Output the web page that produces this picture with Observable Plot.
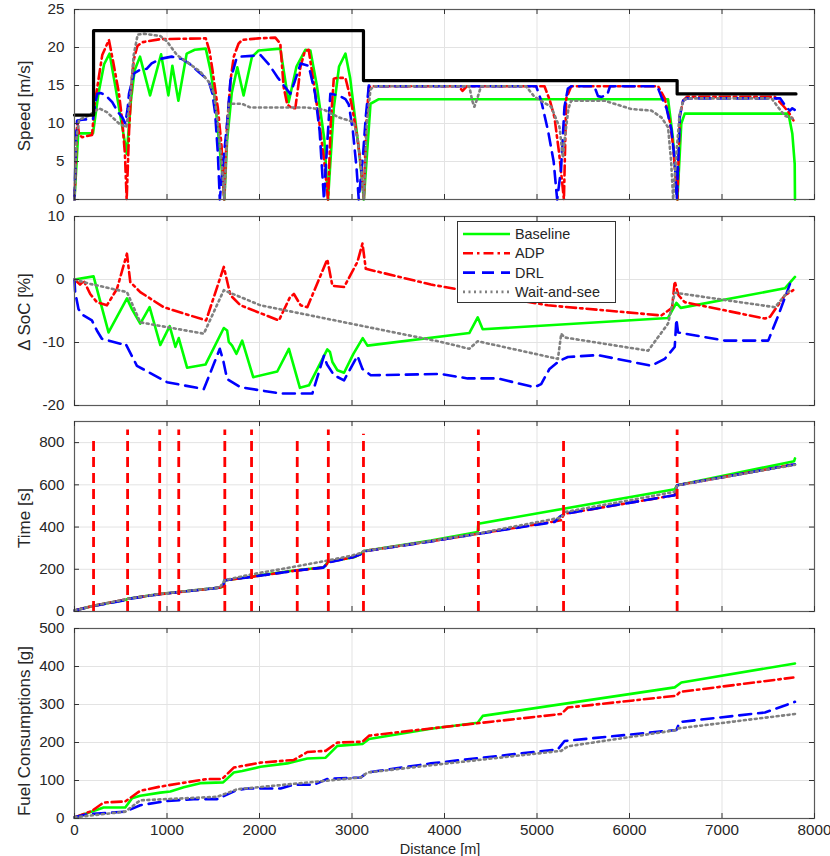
<!DOCTYPE html>
<html><head><meta charset="utf-8">
<script src="https://cdn.jsdelivr.net/npm/d3@7"></script>
<script src="https://cdn.jsdelivr.net/npm/@observablehq/plot@0.6"></script>
<style>
body{margin:0;background:#fff;}
#root{position:relative;width:830px;height:856px;overflow:hidden;font-family:"Liberation Sans",Arial,sans-serif;color:#262626;}
.panel{position:absolute;left:0;}
.panel svg{overflow:visible;}
.ylab{position:absolute;transform:translate(-50%,-50%) rotate(-90deg);white-space:nowrap;font-size:17px;line-height:1;}
.xlab{position:absolute;white-space:nowrap;font-size:14.5px;line-height:14px;transform:translateX(-50%);}
</style></head><body><div id="root"></div>
<script>
// ---------- ticks ----------
const xTicks = [0,1000,2000,3000,4000,5000,6000,7000,8000];
const speedTicks = [0,5,10,15,20,25];
const socTicks = [-20,-10,0,10];
const timeTicks = [0,200,400,600,800];
const fuelTicks = [0,100,200,300,400,500];

// ---------- legend ----------
const seriesNames = ["Baseline","ADP","DRL","Wait-and-see"];

// ---------- speed [m/s] vs distance [m] ----------
const speedLimit = [[0,11.11],[206,22.22],[3124,15.65],[6515,13.89],[7800,13.89]];
const speedBaseline = [[0,0],[40,8.7],[200,8.7],[260,14],[320,17.8],[379,19.2],[440,15],[517,9.5],[565,6],[610,13],[650,17],[708,18.8],[817,13.7],[936,19.1],[1015,13.7],[1058,17.6],[1123,13.0],[1213,19.2],[1300,19.7],[1419,19.85],[1470,17],[1520,13],[1557,8.2],[1600,3],[1620,0],[1650,7.8],[1700,14],[1760,17.4],[1828,13.7],[1918,18.75],[1990,19.6],[2225,19.85],[2315,12.8],[2400,17.5],[2496,19.7],[2550,19.6],[2620,15],[2700,8],[2741,0],[2803,12],[2860,17.5],[2929,19.2],[2980,16],[3019,12.1],[3080,6],[3128,0],[3200,12.6],[3290,13.2],[6417,13.2],[6470,8],[6518,0],[6560,10],[6597,11.3],[7718,11.3],[7760,8.7],[7786,4.7],[7789,0]];
const speedADP = [[0,0],[29,10.4],[50,8.5],[83,8.2],[190,8.5],[216,12.4],[300,19],[372,21.0],[420,18],[480,14],[517,10.3],[545,6],[564,0],[590,9],[620,16],[643,18.5],[680,20.2],[733,20.7],[928,21.1],[1419,21.2],[1460,19.5],[1492,17],[1550,12],[1590,7],[1618,0],[1650,10],[1690,16],[1722,18.8],[1773,20.5],[1813,21],[1990,21.2],[2171,21.3],[2225,20.5],[2261,14.8],[2300,12.5],[2351,12],[2387,12],[2420,15],[2442,17.4],[2490,19.5],[2532,19.7],[2590,15],[2640,10.8],[2700,5],[2741,0],[2770,10],[2803,15.9],[2839,16],[2929,16],[2970,14],[3002,12.1],[3060,8],[3100,4],[3128,0],[3150,9],[3182,14.8],[3220,14.9],[4150,14.9],[4195,14.3],[4240,14.9],[5081,14.9],[5140,13],[5189,10.8],[5240,6],[5291,0],[5316,13.3],[5370,14.9],[6309,14.9],[6381,13.3],[6440,10],[6472,7],[6518,0],[6544,11],[6580,13.0],[6620,13.5],[7572,13.5],[7650,12.5],[7720,11.5],[7772,10.4]];
const speedDRL = [[0,0],[15,8],[29,10.4],[80,10.5],[200,10.6],[230,13],[246,13.9],[280,14],[330,13.8],[408,12.8],[470,11.5],[517,10.8],[549,10],[575,12],[589,13.9],[643,16.6],[700,17],[780,17.2],[834,17.9],[925,18.5],[1051,18.8],[1159,18.5],[1250,17.8],[1340,16.8],[1448,15.7],[1490,14],[1521,11.3],[1550,6],[1571,0],[1600,4],[1650,10],[1686,15.7],[1750,18.5],[1795,18.8],[1918,18.9],[2011,19],[2100,17.8],[2200,16],[2333,13.9],[2380,15.5],[2445,17.9],[2532,17.6],[2600,14],[2650,9],[2697,0],[2720,5],[2766,13.9],[2857,13.7],[2929,13.2],[2965,12.5],[3010,9],[3050,4],[3073,0],[3120,6],[3150,11],[3182,15],[3230,14.9],[4991,14.9],[5045,13],[5120,9],[5180,5],[5218,0],[5260,4],[5297,12.2],[5334,14.6],[5370,14.9],[5620,14.9],[5659,13.6],[5700,13.5],[5760,13.8],[5790,14.9],[6300,14.9],[6345,13.5],[6400,12],[6453,9.2],[6490,5],[6511,0],[6530,6],[6544,11],[6580,13.0],[6620,13.3],[7630,13.3],[7697,12.1],[7735,11.7],[7760,12.0],[7786,11.8]];
const speedWait = [[0,0],[20,8],[50,10.5],[150,11],[264,12],[350,11.5],[481,10],[560,9.5],[600,13],[640,19],[683,21.7],[760,21.8],[928,21.5],[1000,20.8],[1108,19],[1250,17.8],[1361,16.8],[1450,15.5],[1506,14],[1550,10],[1590,5],[1620,0],[1640,6],[1668,12.6],[1809,12.6],[1903,12.1],[2517,12.1],[2700,11.8],[2857,10.8],[3019,10.2],[3060,8],[3100,4],[3128,0],[3160,10],[3200,14.5],[3240,14.9],[4268,14.9],[4300,13],[4323,12.2],[4360,13.5],[4395,14.9],[4882,14.9],[4973,13.5],[5153,12.2],[5244,9.5],[5280,5.5],[5300,8],[5340,12],[5370,13],[5478,13],[5730,13],[6020,11.9],[6237,11.7],[6345,10.8],[6417,9.5],[6450,5],[6472,0],[6500,5],[6540,11],[6580,13.0],[6620,13.3],[7536,13.3],[7609,12.1],[7681,11],[7780,10.6]];

// ---------- Δ SoC [%] ----------
const socBaseline = [[0,0],[206,0.5],[368,-8.4],[567,-3.0],[621,-4.7],[711,-7.0],[812,-4.4],[928,-10.4],[1029,-7.4],[1091,-10.7],[1127,-9.3],[1217,-14.0],[1416,-13.5],[1614,-7.7],[1650,-8.1],[1668,-9.9],[1704,-10.5],[1751,-11.8],[1813,-9.7],[1932,-15.5],[2192,-14.6],[2318,-11.0],[2437,-17.2],[2535,-16.8],[2733,-11.1],[2762,-11.5],[2788,-13.1],[2842,-14.4],[2914,-14.8],[3015,-11.8],[3116,-9.3],[3167,-10.5],[4268,-8.5],[4359,-6.0],[4413,-7.9],[6417,-6.1],[6507,-3.7],[6554,-4.5],[7680,-1.4],[7789,0.4]];
const socADP = [[0,0],[60,-0.8],[100,-0.2],[170,-2.3],[242,-3.6],[350,-4.1],[459,-1.5],[567,4.1],[603,-0.4],[711,-2.0],[964,-4.4],[1423,-6.5],[1614,2.0],[1686,-2.5],[1795,-4.1],[2210,-6.5],[2330,-2.8],[2372,-2.3],[2445,-4.1],[2517,-4.4],[2733,3.2],[2788,-1.0],[2914,-1.2],[3059,2.8],[3113,5.7],[3149,1.7],[3853,-0.8],[5117,-4.1],[6345,-5.7],[6460,-4.5],[6489,-0.3],[6530,-2.5],[6597,-3.6],[7464,-6.2],[7520,-5.9],[7680,-2.5],[7770,-1.7]];
const socDRL = [[0,0],[7,-2],[43,-4.7],[97,-5.7],[188,-6.5],[242,-8.1],[296,-9.4],[495,-10.2],[549,-10.1],[675,-13.7],[1000,-16.3],[1398,-17.4],[1571,-11.0],[1610,-13],[1650,-15.8],[1795,-17.1],[2228,-18.1],[2571,-18.1],[2697,-12.1],[2730,-13.5],[2806,-15.2],[2914,-16.0],[3059,-12.1],[3113,-14.2],[3203,-15.2],[3961,-15.0],[4250,-15.7],[4575,-15.7],[4972,-17.1],[5045,-16.6],[5135,-14.2],[5244,-12.9],[5334,-12.3],[5659,-12.0],[6237,-13.7],[6381,-12.6],[6489,-10.7],[6507,-6.3],[6525,-8.4],[7031,-9.7],[7500,-9.7],[7609,-5.7],[7735,-0.7]];
const socWait = [[0,0],[170,-0.7],[567,-2.0],[711,-6.8],[1398,-8.6],[1614,-1.7],[2011,-4.1],[3961,-9.9],[4268,-11.0],[4359,-9.8],[5226,-12.6],[5262,-8.6],[5298,-9.2],[6201,-11.3],[6417,-7.0],[6489,-2.1],[7572,-4.4],[7680,-2.5],[7735,-1.7]];

// ---------- Time [s] ----------
const signalPos = [206,574,921,1127,1625,1914,2408,2744,3124,4366,5287,6515];
const signalTop = [824,860,860,860,860,860,817,860,840,860,817,860];
const signalBottom = [0,0,0,0,0,0,0,0,0,0,0,0];
const timeBaseline = [[0,5],[206,27],[560,56],[574,60],[921,83],[1578,114],[1614,120],[1618,147],[1903,165],[2372,194],[2697,210],[2744,236],[3022,257],[3095,273],[3131,287],[3853,336],[4359,376],[4366,416],[6489,579],[6515,598],[7780,712],[7789,725]];
const timeADP = [[0,5],[206,27],[564,58],[574,60],[921,82],[1570,113],[1618,122],[1625,148],[1900,163],[2380,193],[2700,209],[2744,234],[3000,256],[3100,272],[3128,286],[3853,333],[4366,368],[5260,432],[5291,460],[5298,463],[6489,551],[6515,598],[7789,697]];
const timeDRL = [[0,5],[206,26],[560,55],[574,59],[921,82],[1570,113],[1600,117],[1625,148],[1900,163],[2380,193],[2690,208],[2744,233],[3000,256],[3100,272],[3124,285],[3853,332],[4366,368],[5189,424],[5244,448],[5298,463],[6489,551],[6515,598],[7789,697]];
const timeWait = [[0,5],[206,27],[574,60],[921,83],[1570,114],[1625,148],[1900,175],[2300,206],[2744,242],[3000,265],[3100,278],[3124,286],[3853,334],[4366,370],[4700,398],[5262,445],[5298,471],[6000,527],[6489,567],[6515,598],[7789,695]];

// ---------- Fuel consumption [g] ----------
const fuelBaseline = [[0,2.6],[206,20],[314,29],[549,29],[621,53],[711,60],[928,68],[1036,71],[1181,82],[1361,93],[1607,95],[1722,121],[1813,125],[2011,136],[2300,145],[2517,158],[2715,160],[2842,191],[3113,196],[3185,209],[3853,236],[4359,252],[4413,270],[6489,345],[6561,358],[7789,408]];
const fuelADP = [[0,3],[188,20],[314,42],[549,45],[711,73],[928,84],[1434,104],[1596,104],[1722,134],[2011,147],[2372,154],[2517,175],[2715,178],[2842,200],[3113,202],[3185,218],[3853,237],[5262,275],[5334,292],[6507,323],[6544,333],[7771,371]];
const fuelDRL = [[0,3],[134,11],[549,18],[711,35],[1000,46],[1289,51],[1542,51],[1758,75],[1867,79],[2228,79],[2372,89],[2589,89],[2733,104],[3095,108],[3167,121],[3853,145],[5226,182],[5298,204],[6507,233],[6544,254],[7464,279],[7789,307]];
const fuelWait = [[0,3],[549,18],[711,48],[1542,57],[1758,77],[3095,108],[3167,121],[3961,143],[5262,178],[5334,190],[6489,232],[6525,237],[7789,275]];

// ---------- styles ----------
const st = {
  Baseline: {stroke: "#00ff00", strokeWidth: 2.6},
  ADP: {stroke: "#ff0000", strokeWidth: 2.6, strokeDasharray: "10,4,2.5,4"},
  DRL: {stroke: "#0000ff", strokeWidth: 2.6, strokeDasharray: "12,7"},
  Wait: {stroke: "#808080", strokeWidth: 2.6, strokeDasharray: "2,3.5"}
};
const X = d => d[0], Y = d => d[1];
function lines(b, a, r, w) {
  return [
    Plot.line(b, {x: X, y: Y, ...st.Baseline}),
    Plot.line(a, {x: X, y: Y, ...st.ADP}),
    Plot.line(r, {x: X, y: Y, ...st.DRL}),
    Plot.line(w, {x: X, y: Y, ...st.Wait})
  ];
}

const W = 830, ML = 74, MR = 16;
const root = document.getElementById("root");
function panel({top, mt, mb, h, yDomain, yTicks, showX, marks}) {
  const fh = h - mt - mb, fw = W - ML - MR;
  const svg = Plot.plot({
    width: W, height: h, marginLeft: ML, marginRight: MR, marginTop: mt, marginBottom: mb,
    style: {fontFamily: '"Liberation Sans", Arial, sans-serif', fontSize: "15.2px", color: "#262626", background: "transparent", overflow: "visible"},
    x: {domain: [0, 8000], ticks: xTicks, tickSize: 0, tickPadding: 6, tickFormat: d => String(d), label: null, axis: showX ? "bottom" : null},
    y: {domain: yDomain, ticks: yTicks, tickSize: 0, tickPadding: 10, tickFormat: d => String(d), label: null},
    marks: [
      Plot.gridX(xTicks, {stroke: "#e3e3e3", strokeOpacity: 1}),
      Plot.gridY(yTicks, {stroke: "#e3e3e3", strokeOpacity: 1}),
      ...marks,
      Plot.frame({stroke: "#5a5a5a", strokeWidth: 1.2}),
      Plot.tickX(xTicks, {x: d => d, insetTop: fh - 5, stroke: "#333"}),
      Plot.tickX(xTicks, {x: d => d, insetBottom: fh - 5, stroke: "#333"}),
      Plot.tickY(yTicks, {y: d => d, insetRight: fw - 5, stroke: "#333"}),
      Plot.tickY(yTicks, {y: d => d, insetLeft: fw - 5, stroke: "#333"})
    ]
  });
  const div = document.createElement("div");
  div.className = "panel";
  div.style.top = top + "px";
  div.appendChild(svg);
  root.appendChild(div);
}

panel({top: 0, mt: 9, mb: 6, h: 205, yDomain: [0, 25], yTicks: speedTicks, showX: false,
  marks: [...lines(speedBaseline, speedADP, speedDRL, speedWait),
    Plot.line(speedLimit, {x: X, y: Y, curve: "step-after", stroke: "#000", strokeWidth: 3.2})]});

panel({top: 206, mt: 10, mb: 6, h: 205, yDomain: [-20, 10], yTicks: socTicks, showX: false,
  marks: lines(socBaseline, socADP, socDRL, socWait)});

const signals = signalPos.map((p, i) => ({p, lo: signalBottom[i], hi: signalTop[i]}));
panel({top: 411, mt: 10, mb: 5, h: 205, yDomain: [0, 900], yTicks: timeTicks, showX: false,
  marks: [...lines(timeBaseline, timeADP, timeDRL, timeWait),
    Plot.ruleX(signals, {x: "p", y1: "lo", y2: "hi", stroke: "#ff0000", strokeWidth: 2.8, strokeDasharray: "10,6"})]});

panel({top: 617, mt: 11, mb: 39, h: 240, yDomain: [0, 500], yTicks: fuelTicks, showX: true,
  marks: lines(fuelBaseline, fuelADP, fuelDRL, fuelWait)});

// axis labels
const yLabels = [["Speed [m/s]", 106], ["\u0394 SoC [%]", 312], ["Time [s]", 518], ["Fuel Consumptions [g]", 731]];
for (const [t, cy] of yLabels) {
  const d = document.createElement("div");
  d.className = "ylab"; d.textContent = t;
  d.style.left = "24px"; d.style.top = cy + "px";
  root.appendChild(d);
}
const xl = document.createElement("div");
xl.className = "xlab"; xl.textContent = "Distance [m]";
xl.style.left = "440px"; xl.style.top = "842px";
root.appendChild(xl);

// legend
const leg = d3.select(root).append("svg")
  .attr("width", 160).attr("height", 83)
  .style("position", "absolute").style("left", "457px").style("top", "221px");
leg.append("rect").attr("x", 0.5).attr("y", 0.5).attr("width", 158).attr("height", 81)
  .attr("fill", "#fff").attr("stroke", "#333").attr("stroke-width", 1);
const legStyles = [st.Baseline, st.ADP, st.DRL, st.Wait];
seriesNames.forEach((name, i) => {
  const y = 13 + i * 19.3;
  const s = legStyles[i];
  leg.append("line").attr("x1", 6).attr("x2", 53).attr("y1", y).attr("y2", y)
    .attr("stroke", s.stroke).attr("stroke-width", s.strokeWidth)
    .attr("stroke-dasharray", s.strokeDasharray || null);
  leg.append("text").attr("x", 58).attr("y", y).attr("dy", "0.35em")
    .attr("font-family", '"Liberation Sans", Arial, sans-serif').attr("font-size", 14.4)
    .attr("fill", "#262626").text(name);
});
</script></body></html>
